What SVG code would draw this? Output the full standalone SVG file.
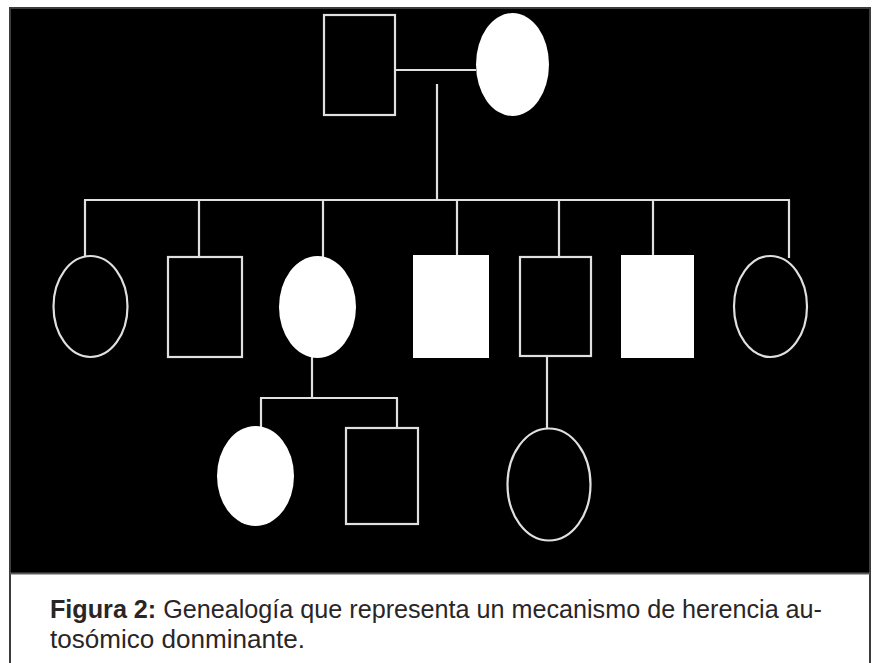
<svg xmlns="http://www.w3.org/2000/svg" width="876" height="663" viewBox="0 0 876 663">
<style>
.o{fill:none;stroke:#e0e0e0;stroke-width:2.2}
.f{fill:#ffffff;stroke:none}
.c{fill:none;stroke:#e0e0e0;stroke-width:2.2}
.cap{font-family:"Liberation Sans","Noto Sans",sans-serif;font-size:25px;fill:#2a2627}
</style>
<rect x="0" y="0" width="876" height="663" fill="#ffffff"/>
<g id="frame">
<rect x="10" y="8" width="860" height="566" fill="#000000"/>
<rect x="10" y="8" width="860" height="680" fill="none" stroke="#3c3c3c" stroke-width="2"/>
<line x1="10" y1="573.5" x2="870" y2="573.5" stroke="#5a5a5a" stroke-width="2"/>
</g>
<g id="connectors">
<line class="c" x1="395" y1="70" x2="476" y2="70"/>
<line class="c" x1="437" y1="84" x2="437" y2="200"/>
<line class="c" x1="84" y1="200" x2="790" y2="200"/>
<line class="c" x1="85" y1="200" x2="85" y2="257"/>
<line class="c" x1="199" y1="200" x2="199" y2="257"/>
<line class="c" x1="323" y1="200" x2="323" y2="257"/>
<line class="c" x1="457" y1="200" x2="457" y2="256"/>
<line class="c" x1="559" y1="200" x2="559" y2="257"/>
<line class="c" x1="653" y1="200" x2="653" y2="256"/>
<line class="c" x1="789" y1="200" x2="789" y2="258"/>
<line class="c" x1="312" y1="357" x2="312" y2="398"/>
<line class="c" x1="260" y1="398" x2="398" y2="398"/>
<line class="c" x1="261" y1="398" x2="261" y2="427"/>
<line class="c" x1="397" y1="398" x2="397" y2="429"/>
<line class="c" x1="547" y1="357" x2="547" y2="429"/>
</g>
<g id="father"><rect class="o" x="324" y="15" width="71" height="100"/></g>
<g id="mother"><ellipse class="f" cx="512.5" cy="64.5" rx="36.5" ry="51.5"/></g>
<g id="child1"><ellipse class="o" cx="90.5" cy="306.5" rx="37" ry="50.5"/></g>
<g id="child2"><rect class="o" x="168" y="257" width="74" height="100"/></g>
<g id="child3"><ellipse class="f" cx="317.5" cy="307" rx="38.5" ry="51"/></g>
<g id="child4"><rect class="f" x="413" y="255" width="76" height="103"/></g>
<g id="child5"><rect class="o" x="520" y="257" width="71" height="99"/></g>
<g id="child6"><rect class="f" x="621" y="255" width="73" height="103"/></g>
<g id="child7"><ellipse class="o" cx="770.5" cy="306.5" rx="36.5" ry="50.5"/></g>
<g id="grandchild1"><ellipse class="f" cx="255.5" cy="476" rx="38.5" ry="50"/></g>
<g id="grandchild2"><rect class="o" x="346" y="428" width="72" height="96"/></g>
<g id="grandchild3"><ellipse class="o" cx="549" cy="484.5" rx="41.5" ry="56"/></g>
<g id="caption">
<text class="cap" x="50" y="618" textLength="772" lengthAdjust="spacingAndGlyphs"><tspan font-weight="bold">Figura 2:</tspan> Genealogía que representa un mecanismo de herencia au-</text>
<text class="cap" x="50" y="648" textLength="255" lengthAdjust="spacingAndGlyphs">tosómico donminante.</text>
</g>
</svg>
